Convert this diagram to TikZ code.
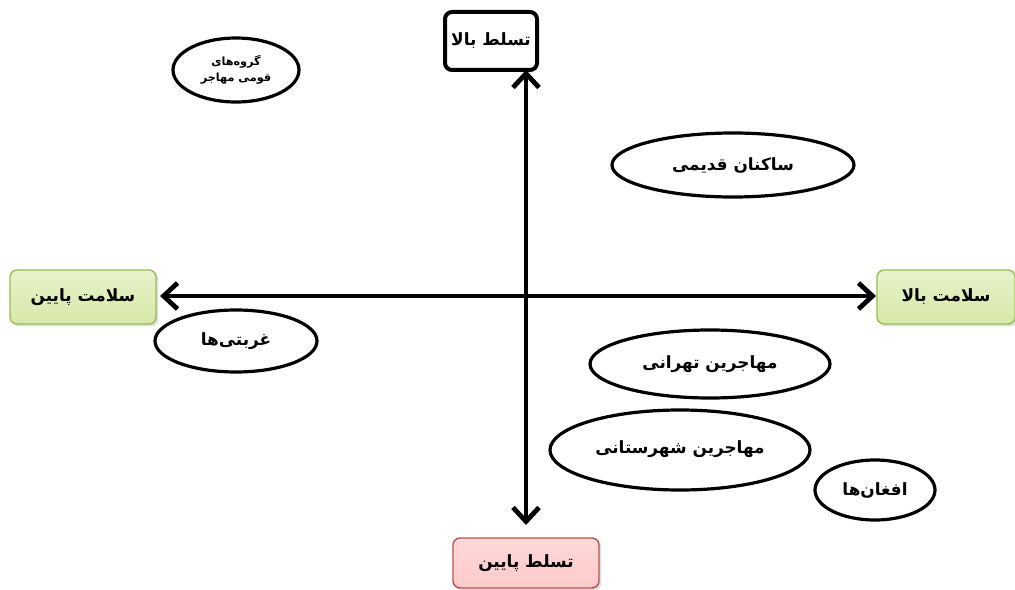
\documentclass[tikz,border=0pt]{standalone}
\usepackage{fontspec}
\usepackage{xcolor}
\usepackage{tikz}
\usetikzlibrary{arrows.meta,positioning,shapes.geometric,shadows}
\TeXXeTstate=1
\newfontfamily\arabicfont[Script=Arabic]{DejaVu Sans}
\definecolor{HighGreen}{HTML}{9BBB59}
\definecolor{HighGreenFill}{HTML}{D7E9A8}
\definecolor{LowRed}{HTML}{C0504D}
\definecolor{LowRedFill}{HTML}{FFC9C9}
\newcommand{\rtl}[1]{\arabicfont\bfseries\beginR #1\endR}
\tikzset{
  ax/box/.style={draw, rounded corners=5pt, align=center, font=\large, inner sep=2pt},
  ax/top/.style={ax/box, line width=1mm, fill=white},
  ax/low/.style={ax/box, draw=LowRed, line width=0.35mm, top color=LowRedFill!70, bottom color=LowRedFill,
    drop shadow={shadow xshift=0.6mm, shadow yshift=-0.6mm, fill=black!25}},
  ax/health/.style={ax/box, draw=HighGreen, line width=0.35mm, top color=HighGreenFill!60!white, bottom color=HighGreenFill,
    drop shadow={shadow xshift=0.6mm, shadow yshift=-0.6mm, fill=black!25}},
  ax/group/.style={draw, ellipse, line width=0.8mm, inner sep=0pt, align=center, font=\large},
  ax/axis/.style={line width=1.2mm, {Straight Barb[length=3.5mm,width=6.5mm]}-{Straight Barb[length=3.5mm,width=6.5mm]}}
}
\begin{document}
\begin{tikzpicture}[x=0.25mm, y=-0.25mm]
  \useasboundingbox (0,0) rectangle (1015,590);
  % axis end boxes
  \node[ax/top, minimum width=23mm, minimum height=14.5mm] (domhigh) at (491,41) {\rtl{تسلط بالا}};
  \node[ax/low, minimum width=36.5mm, minimum height=12.5mm] (domlow) at (526,563) {\rtl{تسلط پایین}};
  \node[ax/health, minimum width=36.5mm, minimum height=13.5mm] (healthlow) at (83,297) {\rtl{سلامت پایین}};
  \node[ax/health, minimum width=34.5mm, minimum height=13.5mm] (healthhigh) at (946,297) {\rtl{سلامت بالا}};
  \coordinate (vtop) at (526,70);
  \coordinate (vbot) at (526,525);
  \coordinate (hleft) at (160,296);
  \coordinate (hright) at (876,296);
  \draw[ax/axis] (vbot) -- (vtop);
  \draw[ax/axis] (hleft) -- (hright);

  % groups
  \node[ax/group, minimum width=31.5mm, minimum height=16mm, font=\footnotesize] (ethnic) at (236,70) {\rtl{گروه‌های}\\[2pt]\rtl{قومی مهاجر}};
  \node[ax/group, minimum width=60.5mm, minimum height=16mm] (natives) at (733,165) {\rtl{ساکنان قدیمی}};
  \node[ax/group, minimum width=40.5mm, minimum height=15.5mm] (ghorbati) at (236,341) {\rtl{غربتی‌ها}};
  \node[ax/group, minimum width=60mm, minimum height=17mm] (tehran) at (710,364) {\rtl{مهاجرین تهرانی}};
  \node[ax/group, minimum width=65mm, minimum height=20mm] (province) at (680,450) {\raisebox{4pt}{\rtl{مهاجرین شهرستانی}}};
  \node[ax/group, minimum width=30mm, minimum height=15mm] (afghan) at (875,490) {\rtl{افغان‌ها}};
\end{tikzpicture}
\end{document}
